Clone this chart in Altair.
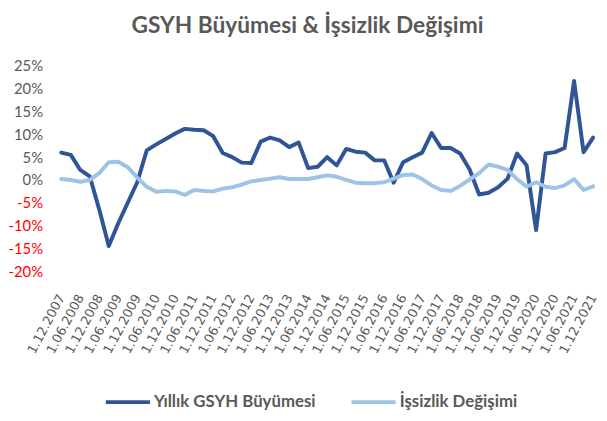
import altair as alt
import pandas as pd

DATES = [
    "1.12.2007", "1.03.2008", "1.06.2008", "1.09.2008", "1.12.2008",
    "1.03.2009", "1.06.2009", "1.09.2009", "1.12.2009",
    "1.03.2010", "1.06.2010", "1.09.2010", "1.12.2010",
    "1.03.2011", "1.06.2011", "1.09.2011", "1.12.2011",
    "1.03.2012", "1.06.2012", "1.09.2012", "1.12.2012",
    "1.03.2013", "1.06.2013", "1.09.2013", "1.12.2013",
    "1.03.2014", "1.06.2014", "1.09.2014", "1.12.2014",
    "1.03.2015", "1.06.2015", "1.09.2015", "1.12.2015",
    "1.03.2016", "1.06.2016", "1.09.2016", "1.12.2016",
    "1.03.2017", "1.06.2017", "1.09.2017", "1.12.2017",
    "1.03.2018", "1.06.2018", "1.09.2018", "1.12.2018",
    "1.03.2019", "1.06.2019", "1.09.2019", "1.12.2019",
    "1.03.2020", "1.06.2020", "1.09.2020", "1.12.2020",
    "1.03.2021", "1.06.2021", "1.09.2021", "1.12.2021",
]

TICK_LABELS = [
    "1.12.2007", "1.06.2008", "1.12.2008", "1.06.2009", "1.12.2009",
    "1.06.2010", "1.12.2010", "1.06.2011", "1.12.2011", "1.06.2012",
    "1.12.2012", "1.06.2013", "1.12.2013", "1.06.2014", "1.12.2014",
    "1.06.2015", "1.12.2015", "1.06.2016", "1.12.2016", "1.06.2017",
    "1.12.2017", "1.06.2018", "1.12.2018", "1.06.2019", "1.12.2019",
    "1.06.2020", "1.12.2020", "1.06.2021", "1.12.2021",
]

GSYH = [
    6.0, 5.5, 2.2, 0.8, -6.5,
    -14.5, -9.5, -5.0, -0.5,
    6.5, 7.8, 9.0, 10.2,
    11.2, 11.0, 10.9, 9.6,
    5.9, 5.0, 3.8, 3.7,
    8.4, 9.3, 8.7, 7.2,
    8.2, 2.6, 2.9, 5.0,
    3.2, 6.8, 6.2, 6.0,
    4.3, 4.3, -0.6, 3.9,
    5.0, 6.0, 10.3, 7.0,
    7.0, 5.8, 2.3, -3.2,
    -2.8, -1.6, 0.3, 5.8,
    3.2, -11.0, 5.8, 6.1,
    7.0, 21.7, 6.1, 9.3,
]

ISSIZLIK = [
    0.2, 0.0, -0.4, 0.0, 1.5,
    3.9, 4.0, 2.8, 0.5,
    -1.5, -2.6, -2.4, -2.5,
    -3.3, -2.2, -2.4, -2.5,
    -1.9, -1.6, -1.0, -0.3,
    0.0, 0.3, 0.6, 0.2,
    0.2, 0.2, 0.6, 1.0,
    0.7, 0.0, -0.6, -0.7,
    -0.7, -0.5, 0.3, 1.1,
    1.2, 0.2, -1.2, -2.2,
    -2.4, -1.3, 0.1, 1.5,
    3.4, 2.9, 2.2, 0.2,
    -1.5, -0.5, -1.5, -1.8,
    -1.2, 0.2, -2.2, -1.4,
]

SERIES = ["Yıllık GSYH Büyümesi", "İşsizlik Değişimi"]
COLORS = ["#2F5597", "#9DC3E6"]
Y_TICKS = [-20, -15, -10, -5, 0, 5, 10, 15, 20, 25]

rows = []
for name, vals in zip(SERIES, [GSYH, ISSIZLIK]):
    for d, v in zip(DATES, vals):
        rows.append({"Tarih": d, "Deger": v, "Seri": name})
df = pd.DataFrame(rows)

chart = (
    alt.Chart(df)
    .mark_line(strokeWidth=4, strokeJoin="round", strokeCap="round")
    .encode(
        x=alt.X(
            "Tarih:N",
            sort=DATES,
            scale=alt.Scale(type="point", padding=0),
            axis=alt.Axis(
                values=TICK_LABELS,
                title=None,
                labelAngle=-62,
                labelAlign="right",
                labelBaseline="middle",
                labelPadding=24,
                labelFont="DejaVu Sans",
                labelFontSize=13,
                labelColor="#595959",
                labelOverlap=False,
                labelBound=False,
                labelFlush=False,
                ticks=False,
                domain=False,
                grid=False,
            ),
        ),
        y=alt.Y(
            "Deger:Q",
            scale=alt.Scale(domain=[-20, 25], nice=False, zero=False),
            axis=alt.Axis(
                values=Y_TICKS,
                title=None,
                labelExpr="datum.value + '%'",
                labelColor={"condition": {"test": "datum.value < 0", "value": "#FF0000"}, "value": "#595959"},
                labelFont="Lato",
                labelFontSize=15,
                labelPadding=19,
                ticks=False,
                domain=False,
                grid=False,
            ),
        ),
        color=alt.Color(
            "Seri:N",
            sort=SERIES,
            scale=alt.Scale(domain=SERIES, range=COLORS),
            legend=alt.Legend(
                orient="none",
                legendX=43,
                legendY=316,
                direction="horizontal",
                title=None,
                symbolType="stroke",
                symbolSize=2000,
                symbolStrokeWidth=4,
                labelFont="Lato",
                labelFontSize=17,
                labelFontWeight="bold",
                labelColor="#595959",
                labelLimit=0,
                labelOffset=2,
                columnPadding=28,
            ),
        ),
    )
    .properties(
        width=539,
        height=208,
        autosize=alt.AutoSizeParams(type="none"),
        padding={"left": 54, "top": 56, "right": 6, "bottom": 140},
        title=alt.TitleParams(
            "GSYH Büyümesi & İşsizlik  Değişimi",
            font="Lato",
            fontSize=23,
            fontWeight="bold",
            color="#595959",
            anchor="middle",
            dx=-20,
            offset=21,
        ),
    )
    .configure_view(stroke=None)
)

chart.save("out.html", embed_options={"renderer": "svg", "actions": False})
